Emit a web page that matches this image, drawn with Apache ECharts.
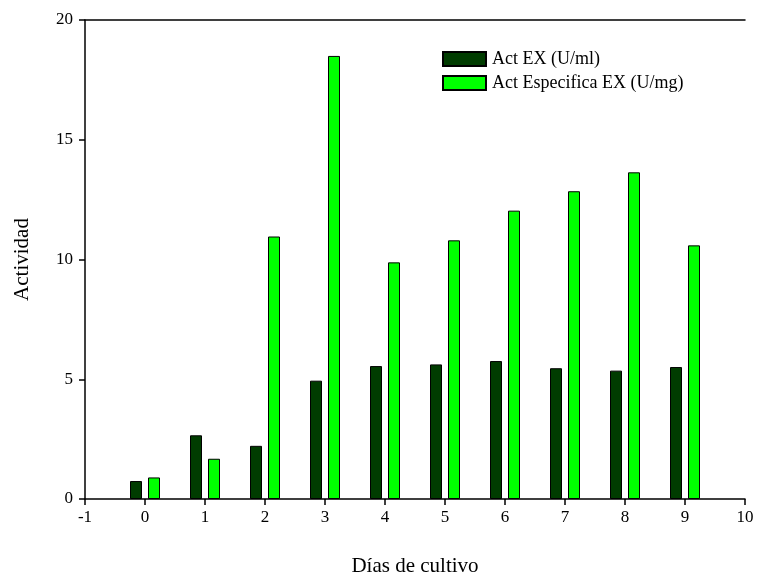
<!DOCTYPE html>
<html>
<head>
<meta charset="utf-8">
<script src="https://cdn.jsdelivr.net/npm/echarts@6/dist/echarts.min.js"></script>
<style>html,body{margin:0;padding:0;background:#fff}#c{width:757px;height:576px}</style>
</head>
<body>
<div id="c"></div>
<script>
const days = [0, 1, 2, 3, 4, 5, 6, 7, 8, 9];
const actEX = [0.75, 2.66, 2.22, 4.94, 5.55, 5.62, 5.76, 5.46, 5.36, 5.51];
const actEspEX = [0.90, 1.68, 10.96, 18.5, 9.88, 10.8, 12.04, 12.85, 13.64, 10.59];
const seriesNames = ['Act EX (U/ml)', 'Act Especifica EX (U/mg)'];
const xTitle = 'Días de cultivo';
const yTitle = 'Actividad';

const font = 'Liberation Serif';
const chart = echarts.init(document.getElementById('c'), null, {renderer: 'canvas'});
const pair = (arr) => days.map((d, i) => [d, arr[i]]);

chart.setOption({
  animation: false,
  backgroundColor: '#fff',
  grid: {left: 85, right: 12, top: 20, bottom: 77, containLabel: false, outerBoundsMode: 'none'},
  legend: {
    left: 437, top: 45, orient: 'vertical', icon: 'rect',
    itemWidth: 43, itemHeight: 14, itemGap: 6,
    textStyle: {fontFamily: font, fontSize: 18, color: '#000', padding: [0, 0, 0, 1]},
    data: seriesNames
  },
  xAxis: [{
    type: 'value', min: -1, max: 10, interval: 1,
    name: xTitle, nameLocation: 'middle', nameGap: 57,
    nameTextStyle: {fontFamily: font, fontSize: 21, color: '#000'},
    axisLine: {show: true, lineStyle: {color: '#000', width: 1.5}},
    axisTick: {show: true, length: 6, lineStyle: {color: '#000', width: 1.5}},
    axisLabel: {fontFamily: font, fontSize: 17, color: '#000', margin: 10},
    splitLine: {show: false}
  }, {
    type: 'value', min: -1, max: 10, position: 'top',
    axisLine: {show: true, onZero: false, lineStyle: {color: '#000', width: 1.5}},
    axisTick: {show: false}, axisLabel: {show: false}, splitLine: {show: false}
  }],
  yAxis: {
    type: 'value', min: 0, max: 20, interval: 5,
    name: yTitle, nameLocation: 'middle', nameGap: 52, nameRotate: 90,
    nameTextStyle: {fontFamily: font, fontSize: 21, color: '#000'},
    axisLine: {show: true, onZero: false, lineStyle: {color: '#000', width: 1.5}},
    axisTick: {show: true, length: 6, lineStyle: {color: '#000', width: 1.5}},
    axisLabel: {fontFamily: font, fontSize: 17, color: '#000', margin: 12},
    splitLine: {show: false}
  },
  series: [{
    name: seriesNames[0], type: 'bar', xAxisIndex: 0,
    data: pair(actEX), barWidth: 12, barGap: '50%',
    itemStyle: {color: '#003c00', borderColor: '#000', borderWidth: 1}
  }, {
    name: seriesNames[1], type: 'bar', xAxisIndex: 0,
    data: pair(actEspEX), barWidth: 12, barGap: '50%',
    itemStyle: {color: '#00ff00', borderColor: '#000', borderWidth: 1}
  }]
});
</script>
</body>
</html>
